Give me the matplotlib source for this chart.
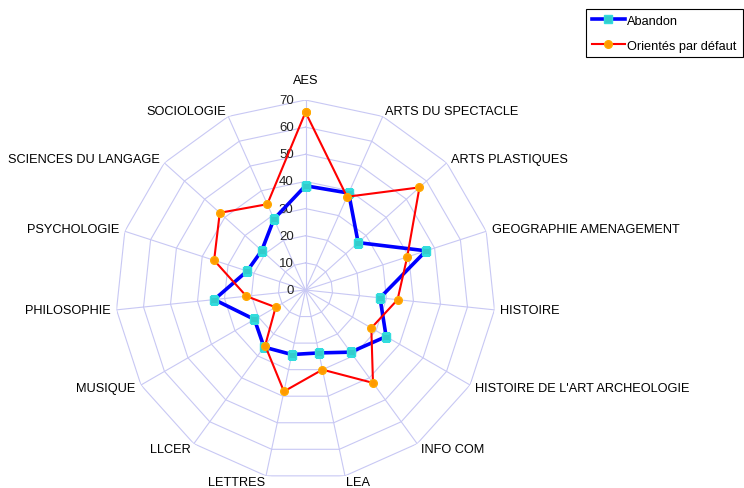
import numpy as np
import matplotlib
matplotlib.use("Agg")
import matplotlib.pyplot as plt
from matplotlib import font_manager

names = {f.name for f in font_manager.fontManager.ttflist}
if 'Liberation Sans Narrow' in names:
    FAM = ['Liberation Sans Narrow', 'DejaVu Sans']
    FS = 11.0
    TFS = 11.0
else:
    FAM = ['Liberation Sans', 'DejaVu Sans']
    FS = 9.2
    TFS = 9.5
plt.rcParams['font.family'] = FAM

categories = ["AES", "ARTS DU SPECTACLE", "ARTS PLASTIQUES", "GEOGRAPHIE AMENAGEMENT",
              "HISTOIRE", "HISTOIRE DE L'ART ARCHEOLOGIE", "INFO COM", "LEA", "LETTRES",
              "LLCER", "MUSIQUE", "PHILOSOPHIE", "PSYCHOLOGIE", "SCIENCES DU LANGAGE",
              "SOCIOLOGIE"]
abandon = [38.4, 39.1, 26.1, 46.7, 27.6, 34.3, 28.3, 23.7, 24.3, 26.0, 21.7, 33.8, 22.6, 21.7, 28.6]
defaut = [65.5, 37.6, 56.5, 39.4, 34.1, 28.0, 42.3, 30.0, 38.2, 25.3, 12.7, 21.9, 35.4, 42.5, 34.6]
r_ticks = [0, 10, 20, 30, 40, 50, 60, 70]

n = len(categories)
theta = np.arange(n) * 2 * np.pi / n
theta_c = np.append(theta, theta[0])

W, H = 744, 489
fig = plt.figure(figsize=(W / 100, H / 100), dpi=100)
cx, cy, R = 305.5, 291.0, 190.0
ax = fig.add_axes([(cx - R) / W, 1 - (cy + R) / H, 2 * R / W, 2 * R / H], projection='polar')
ax.set_theta_zero_location('N')
ax.set_theta_direction(-1)
ax.set_ylim(0, 70)
ax.grid(False)
ax.spines['polar'].set_visible(False)
ax.set_xticks([])
ax.set_yticks([])
ax.patch.set_visible(False)

gcol = '#c8c8f4'
for r in r_ticks[1:]:
    ax.plot(theta_c, [r] * (n + 1), color=gcol, lw=0.8, zorder=1)
for t in theta:
    ax.plot([t, t], [0, 70], color=gcol, lw=0.8, zorder=1)

for r in r_ticks:
    ax.annotate(str(r), xy=(0, r), xytext=(-8.5, 0), textcoords='offset points',
                ha='right', va='center', fontsize=TFS, color='#222222')

ax.plot(theta_c, abandon + [abandon[0]], color='#0000ff', lw=2.6, marker='s',
        markersize=5.5, markerfacecolor='#33cccc', markeredgecolor='#33dddd', zorder=3,
        label='Abandon')
ax.plot(theta_c, defaut + [defaut[0]], color='#ff0000', lw=1.5, marker='o',
        markersize=5.5, markerfacecolor='#ff9900', markeredgecolor='#ffaa00', zorder=4,
        label='Orientés par défaut')

for i, (t, lab) in enumerate(zip(theta, categories)):
    deg = np.degrees(t)
    if i == 0:
        ax.text(t, 77.5, lab, ha='center', va='center', fontsize=FS, clip_on=False)
        continue
    ha = 'left' if deg < 180 else 'right'
    ax.text(t, 72.2, lab, ha=ha, va='center', fontsize=FS, clip_on=False)

leg = fig.legend(loc='upper right', bbox_to_anchor=(742.5 / W, 1 - 10 / H),
                 fontsize=FS, frameon=True, fancybox=False, framealpha=1,
                 edgecolor='black', handlelength=2.6, handletextpad=0.2,
                 labelspacing=1.0, borderpad=0.45, borderaxespad=0)
leg.get_frame().set_linewidth(0.8)

fig.savefig('out.png', dpi=100)
